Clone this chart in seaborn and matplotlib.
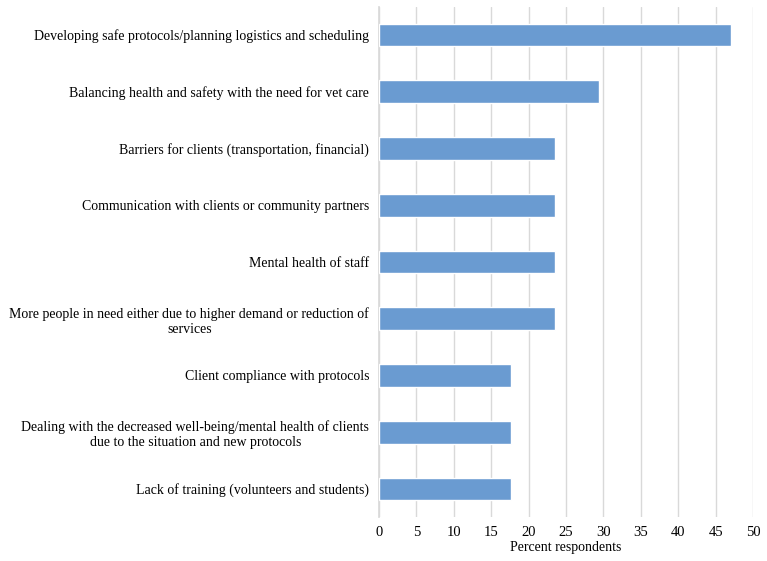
import matplotlib
matplotlib.use("Agg")
import matplotlib.pyplot as plt
import seaborn as sns
import pandas as pd

# kategoriler ve yüzdeler (yukarıdan aşağıya)
categories = [
    "Developing safe protocols/planning logistics and scheduling",
    "Balancing health and safety with the need for vet care",
    "Barriers for clients (transportation, financial)",
    "Communication with clients or community partners",
    "Mental health of staff",
    "More people in need either due to higher demand or reduction of\nservices",
    "Client compliance with protocols",
    "Dealing with the decreased well-being/mental health of clients\ndue to the situation and new protocols",
    "Lack of training (volunteers and students)",
]
percents = [47.06, 29.41, 23.53, 23.53, 23.53, 23.53, 17.65, 17.65, 17.65]
x_ticks = [0, 5, 10, 15, 20, 25, 30, 35, 40, 45, 50]

data = pd.DataFrame({"category": categories, "percent": percents})

sns.set_theme(style="white")
plt.rcParams["font.family"] = ["Liberation Serif", "DejaVu Serif"]
plt.rcParams["text.color"] = "black"
plt.rcParams["xtick.color"] = "black"
plt.rcParams["ytick.color"] = "black"
plt.rcParams["axes.labelcolor"] = "black"

fig = plt.figure(figsize=(7.67, 5.61), dpi=100)
ax = fig.add_axes([0.494, 0.078, 0.488, 0.910])

sns.barplot(data=data, x="percent", y="category", color="#6A9BD1",
            saturation=1, width=0.4, orient="h", ax=ax, zorder=3)

ax.set_xlim(0, 50)
ax.set_xticks(x_ticks)
ax.set_ylim(8.5, -0.5)
ax.grid(axis="x", color="#D9D9D9", linewidth=1, zorder=0)
for s in ["top", "right", "bottom"]:
    ax.spines[s].set_visible(False)
ax.spines["left"].set_color("#D9D9D9")
ax.tick_params(axis="x", length=0, labelsize=10.5, pad=6)
ax.tick_params(axis="y", length=0, labelsize=10, pad=7)
for lab in ax.get_yticklabels():
    lab.set_multialignment("center")
    lab.set_linespacing(1.2)
ax.set_xlabel("Percent respondents", fontsize=10, labelpad=2)
ax.set_ylabel("")

plt.savefig("out.png", dpi=100)
